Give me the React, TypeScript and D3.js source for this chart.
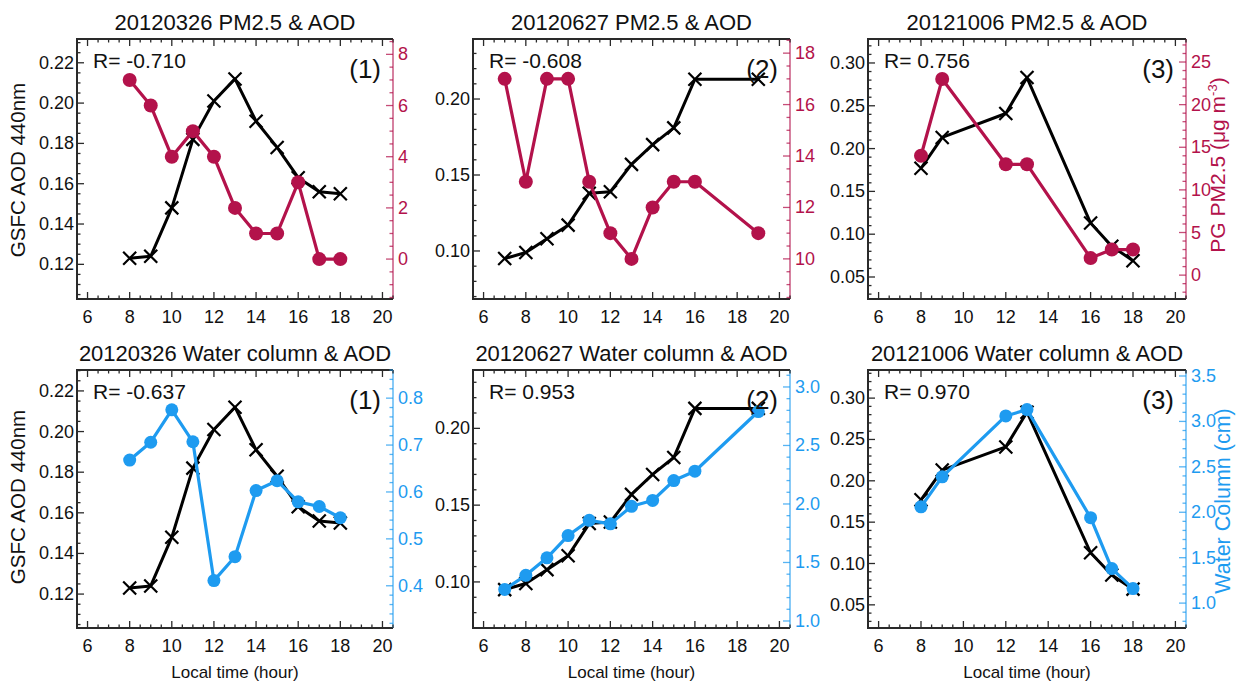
import React from 'react'
import * as d3 from 'd3'

// Hours of observation per day
const hoursMar = [8, 9, 10, 11, 12, 13, 14, 15, 16, 17, 18]
const hoursJun = [7, 8, 9, 10, 11, 12, 13, 14, 15, 16, 19]
const hoursOct = [8, 9, 12, 13, 16, 17, 18]

// GSFC AOD 440nm
const aodMar = [0.123, 0.124, 0.148, 0.182, 0.201, 0.212, 0.191, 0.178, 0.163, 0.156, 0.155]
const aodJun = [0.095, 0.099, 0.108, 0.117, 0.138, 0.139, 0.157, 0.170, 0.181, 0.213, 0.213]
const aodOct = [0.177, 0.213, 0.241, 0.283, 0.113, 0.086, 0.069]

// PG PM2.5 (ug m-3)
const pmMar = [7, 6, 4, 5, 4, 2, 1, 1, 3, 0, 0]
const pmJun = [17, 13, 17, 17, 13, 11, 10, 12, 13, 13, 11]
const pmOct = [14, 23, 13, 13, 2, 3, 3]

// Water column (cm)
const waterMar = [0.668, 0.706, 0.775, 0.707, 0.411, 0.462, 0.603, 0.624, 0.579, 0.569, 0.545]
const waterJun = [1.27, 1.39, 1.54, 1.73, 1.86, 1.83, 1.98, 2.03, 2.2, 2.28, 2.79]
const waterOct = [2.06, 2.39, 3.06, 3.13, 1.94, 1.38, 1.16]

const xTicks = [6, 8, 10, 12, 14, 16, 18, 20]

const RED = '#B3124B'
const BLUE = '#1E9BF0'
const FONT = '"Liberation Sans", Arial, Helvetica, sans-serif'

interface PanelProps {
  title: string
  x0: number
  y0: number
  w: number
  h: number
  hours: number[]
  aod: number[]
  other: number[]
  color: string
  leftDomain: [number, number]
  leftTicks: number[]
  leftMinor: number
  rightDomain: [number, number]
  rightTicks: number[]
  rightMinor: number
  rightFmt: (v: number) => string
  rText: string
  tag: string
  circleR: number
}

function minorTicks(domain: [number, number], step: number) {
  const out: number[] = []
  const start = Math.ceil(domain[0] / step - 1e-6) * step
  for (let v = start; v <= domain[1] + 1e-9; v += step) out.push(+v.toFixed(6))
  return out
}

function Panel(p: PanelProps) {
  const x = d3.scaleLinear().domain([5.5, 20.5]).range([p.x0, p.x0 + p.w])
  const yl = d3.scaleLinear().domain(p.leftDomain).range([p.y0 + p.h, p.y0])
  const yr = d3.scaleLinear().domain(p.rightDomain).range([p.y0 + p.h, p.y0])
  const right = p.x0 + p.w
  const bottom = p.y0 + p.h

  const aodLine = d3.line<number>().x((_, i) => x(p.hours[i])).y(d => yl(d))
  const otherLine = d3.line<number>().x((_, i) => x(p.hours[i])).y(d => yr(d))

  const xMinor = minorTicks([5.5, 20.5], 0.5)
  const lMinor = minorTicks(p.leftDomain, p.leftMinor)
  const rMinor = minorTicks(p.rightDomain, p.rightMinor)
  const fmtL = d3.format('.2f')
  const frame = '#2a2a2a'

  return (
    <g fontFamily={FONT}>
      <text x={p.x0 + p.w / 2} y={p.y0 - 9} textAnchor="middle" fontSize={22} fill="#111">{p.title}</text>

      {/* frame: left, top, bottom */}
      <path d={`M${right},${p.y0}H${p.x0}V${bottom}H${right}`} fill="none" stroke={frame} strokeWidth={2} />
      <line x1={right} x2={right} y1={p.y0} y2={bottom} stroke={p.color} strokeWidth={1.5} opacity={0.7} />

      {/* x ticks bottom & top */}
      {xMinor.map(v => {
        const major = v % 2 === 0
        const L = major ? 7 : 3.5
        return (
          <g key={'x' + v} stroke={frame} strokeWidth={1.3}>
            <line x1={x(v)} x2={x(v)} y1={bottom} y2={bottom - L} />
            <line x1={x(v)} x2={x(v)} y1={p.y0} y2={p.y0 + L} />
          </g>
        )
      })}
      {xTicks.map(v => (
        <text key={'xl' + v} x={x(v)} y={bottom + 24} textAnchor="middle" fontSize={18} fill="#111">{v}</text>
      ))}

      {/* left ticks */}
      {lMinor.map(v => {
        const major = p.leftTicks.some(t => Math.abs(t - v) < 1e-6)
        return <line key={'l' + v} x1={p.x0} x2={p.x0 + (major ? 7 : 3.5)} y1={yl(v)} y2={yl(v)} stroke={frame} strokeWidth={1.3} />
      })}
      {p.leftTicks.map(v => (
        <text key={'ll' + v} x={p.x0 - 3} y={yl(v) + 6} textAnchor="end" fontSize={18} fill="#111">{fmtL(v)}</text>
      ))}

      {/* right ticks */}
      {rMinor.map(v => {
        const major = p.rightTicks.some(t => Math.abs(t - v) < 1e-6)
        return <line key={'r' + v} x1={right} x2={right - (major ? 7 : 3.5)} y1={yr(v)} y2={yr(v)} stroke={p.color} strokeWidth={1.3} opacity={0.75} />
      })}
      {p.rightTicks.map(v => (
        <text key={'rl' + v} x={right + 5} y={yr(v) + 6} textAnchor="start" fontSize={18} fill={p.color}>{p.rightFmt(v)}</text>
      ))}

      {/* AOD series */}
      <path d={aodLine(p.aod) || ''} fill="none" stroke="#000" strokeWidth={3} strokeLinejoin="round" />
      {p.aod.map((d, i) => {
        const cx = x(p.hours[i]), cy = yl(d), s = 6.5
        return <path key={'m' + i} d={`M${cx - s},${cy - s}L${cx + s},${cy + s}M${cx - s},${cy + s}L${cx + s},${cy - s}`} stroke="#000" strokeWidth={2.2} />
      })}

      {/* colored series */}
      <path d={otherLine(p.other) || ''} fill="none" stroke={p.color} strokeWidth={3.2} strokeLinejoin="round" />
      {p.other.map((d, i) => (
        <circle key={'c' + i} cx={x(p.hours[i])} cy={yr(d)} r={p.circleR} fill={p.color} />
      ))}

      <text x={p.x0 + 16} y={p.y0 + 29} fontSize={21} fill="#111">{p.rText}</text>
      <text x={right - 12} y={p.y0 + 39} textAnchor="end" fontSize={26} fill="#111">{p.tag}</text>
    </g>
  )
}

export default function App() {
  const fmtInt = (v: number) => d3.format('d')(v)
  const fmt1 = (v: number) => d3.format('.1f')(v)
  const top = 39, topH = 260, botTop = 370, botH = 258
  const cols = [
    { x0: 77, w: 316 },
    { x0: 473, w: 317 },
    { x0: 868, w: 318 },
  ]
  return (
    <svg width={1239} height={684} style={{ position: 'absolute', left: 0, top: 0, background: '#fff' }}>
      <Panel title="20120326 PM2.5 & AOD" x0={cols[0].x0} y0={top} w={cols[0].w} h={topH}
        hours={hoursMar} aod={aodMar} other={pmMar} color={RED}
        leftDomain={[0.1028, 0.2318]} leftTicks={[0.12, 0.14, 0.16, 0.18, 0.2, 0.22]} leftMinor={0.005}
        rightDomain={[-1.56, 8.6]} rightTicks={[0, 2, 4, 6, 8]} rightMinor={0.5} rightFmt={fmtInt}
        rText="R= -0.710" tag="(1)" circleR={7} />
      <Panel title="20120627 PM2.5 & AOD" x0={cols[1].x0} y0={top} w={cols[1].w} h={topH}
        hours={hoursJun} aod={aodJun} other={pmJun} color={RED}
        leftDomain={[0.0684, 0.2395]} leftTicks={[0.1, 0.15, 0.2]} leftMinor={0.01}
        rightDomain={[8.44, 18.55]} rightTicks={[10, 12, 14, 16, 18]} rightMinor={0.5} rightFmt={fmtInt}
        rText="R= -0.608" tag="(2)" circleR={7} />
      <Panel title="20121006 PM2.5 & AOD" x0={cols[2].x0} y0={top} w={cols[2].w} h={topH}
        hours={hoursOct} aod={aodOct} other={pmOct} color={RED}
        leftDomain={[0.0243, 0.328]} leftTicks={[0.05, 0.1, 0.15, 0.2, 0.25, 0.3]} leftMinor={0.01}
        rightDomain={[-2.8, 27.7]} rightTicks={[0, 5, 10, 15, 20, 25]} rightMinor={1} rightFmt={fmtInt}
        rText="R= 0.756" tag="(3)" circleR={7} />

      <Panel title="20120326 Water column & AOD" x0={cols[0].x0} y0={botTop} w={cols[0].w} h={botH}
        hours={hoursMar} aod={aodMar} other={waterMar} color={BLUE}
        leftDomain={[0.1033, 0.2303]} leftTicks={[0.12, 0.14, 0.16, 0.18, 0.2, 0.22]} leftMinor={0.005}
        rightDomain={[0.31, 0.86]} rightTicks={[0.4, 0.5, 0.6, 0.7, 0.8]} rightMinor={0.02} rightFmt={fmt1}
        rText="R= -0.637" tag="(1)" circleR={6.5} />
      <Panel title="20120627 Water column & AOD" x0={cols[1].x0} y0={botTop} w={cols[1].w} h={botH}
        hours={hoursJun} aod={aodJun} other={waterJun} color={BLUE}
        leftDomain={[0.070, 0.238]} leftTicks={[0.1, 0.15, 0.2]} leftMinor={0.01}
        rightDomain={[0.94, 3.145]} rightTicks={[1, 1.5, 2, 2.5, 3]} rightMinor={0.1} rightFmt={fmt1}
        rText="R= 0.953" tag="(2)" circleR={6.5} />
      <Panel title="20121006 Water column & AOD" x0={cols[2].x0} y0={botTop} w={cols[2].w} h={botH}
        hours={hoursOct} aod={aodOct} other={waterOct} color={BLUE}
        leftDomain={[0.022, 0.334]} leftTicks={[0.05, 0.1, 0.15, 0.2, 0.25, 0.3]} leftMinor={0.01}
        rightDomain={[0.726, 3.566]} rightTicks={[1, 1.5, 2, 2.5, 3, 3.5]} rightMinor={0.1} rightFmt={fmt1}
        rText="R= 0.970" tag="(3)" circleR={6.5} />

      {/* axis titles */}
      <g fontFamily={FONT}>
        <text transform="translate(25,170) rotate(-90)" textAnchor="middle" fontSize={20.5} fill="#111">GSFC AOD 440nm</text>
        <text transform="translate(25,497) rotate(-90)" textAnchor="middle" fontSize={20.5} fill="#111">GSFC AOD 440nm</text>
        <text transform="translate(1225,165) rotate(-90)" textAnchor="middle" fontSize={21} fill={RED}>
          PG PM2.5 (μg m<tspan dy={-8} fontSize={13}>-3</tspan><tspan dy={8}>)</tspan>
        </text>
        <text transform="translate(1230,501) rotate(-90)" textAnchor="middle" fontSize={21.5} fill={BLUE}>Water Column (cm)</text>
        {cols.map((c, i) => (
          <text key={i} x={c.x0 + c.w / 2} y={678} textAnchor="middle" fontSize={17} fill="#111">Local time (hour)</text>
        ))}
      </g>
    </svg>
  )
}
